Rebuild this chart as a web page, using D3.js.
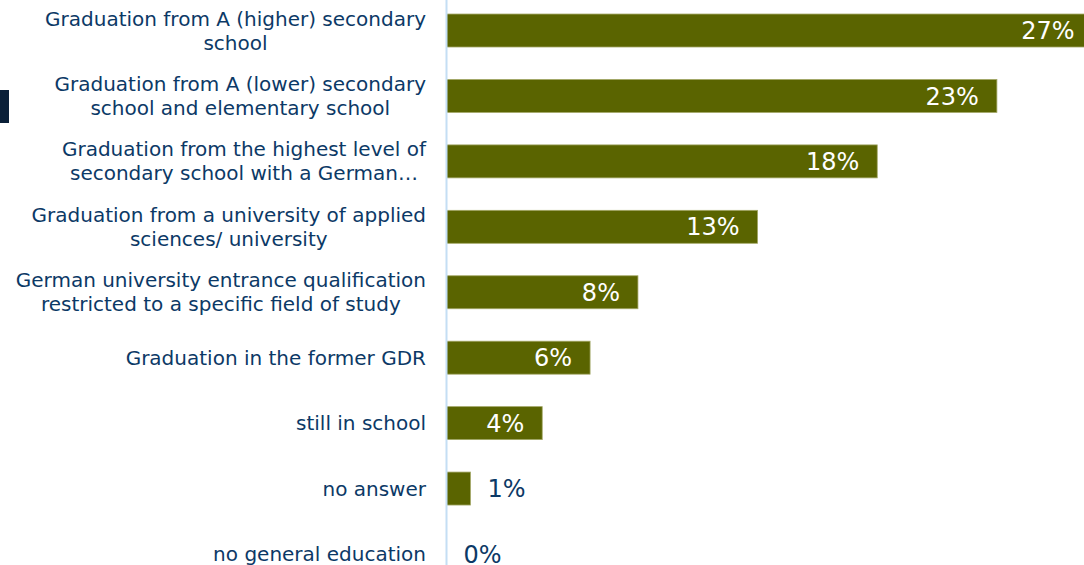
<!DOCTYPE html>
<html>
<head>
<meta charset="utf-8">
<script src="https://cdn.jsdelivr.net/npm/d3@7/dist/d3.min.js"></script>
<style>
  html, body { margin: 0; padding: 0; background: #ffffff; overflow: hidden; }
  svg { display: block; font-family: "DejaVu Sans", Verdana, sans-serif; }
</style>
</head>
<body>
<svg id="chart" width="1084" height="565"></svg>
<script>
// School-leaving qualification, share of respondents
const categories = [
  ["Graduation from A (higher) secondary", "school"],
  ["Graduation from A (lower) secondary", "school and elementary school"],
  ["Graduation from the highest level of", "secondary school with a German…"],
  ["Graduation from a university of applied", "sciences/ university"],
  ["German university entrance qualification", "restricted to a specific field of study"],
  ["Graduation in the former GDR"],
  ["still in school"],
  ["no answer"],
  ["no general education"]
];
const values = [27, 23, 18, 13, 8, 6, 4, 1, 0];
const valueLabels = ["27%", "23%", "18%", "13%", "8%", "6%", "4%", "1%", "0%"];

const W = 1084, H = 565;
const axisX = 446.5;
const labelRight = 426;
const barColor = "#5a6400";
const textColor = "#0c3966";

const svg = d3.select("#chart");
const keys = categories.map((c, i) => "c" + i);

const x = d3.scaleLinear().domain([0, 30]).range([axisX, axisX + 30 * 23.93]);
const y = d3.scaleBand()
  .domain(keys)
  .range([-2.2, 586.7])
  .paddingInner(0.496)
  .paddingOuter(0.248);

// decorative block at the left edge
svg.append("rect")
  .attr("x", 0).attr("y", 90).attr("width", 9).attr("height", 33)
  .attr("fill", "#0a1f38");

// bars
svg.append("g").selectAll("rect")
  .data(values)
  .join("rect")
  .attr("x", x(0))
  .attr("y", (d, i) => y(keys[i]))
  .attr("width", d => x(d) - x(0))
  .attr("height", y.bandwidth())
  .attr("fill", barColor)
  .attr("stroke", d => d > 0 ? "#a3a766" : "none")
  .attr("stroke-width", 0.8);

// vertical axis line
const axis = svg.append("g")
  .attr("transform", `translate(${axisX - 0.5},0)`)
  .call(d3.axisLeft(y).tickSize(0).tickFormat(""));
axis.select(".domain").attr("stroke", "#c4def4").attr("stroke-width", 2);

// category labels: block right-aligned, lines centred within the block
const catG = svg.append("g").attr("font-size", 20).attr("fill", textColor);
categories.forEach((lines, i) => {
  const cy = y(keys[i]) + y.bandwidth() / 2;
  const t = catG.append("text").attr("text-anchor", "middle");
  const spans = lines.map((ln, j) => t.append("tspan").text(ln));
  const widths = spans.map(s => s.node().getComputedTextLength());
  const maxW = d3.max(widths);
  const cx = labelRight - maxW / 2;
  const lh = 24;
  spans.forEach((s, j) => {
    s.attr("x", cx)
     .attr("y", cy + (j - (lines.length - 1) / 2) * lh)
     .attr("dy", "0.35em");
  });
});

// value labels
svg.append("g").attr("font-size", 24)
  .selectAll("text")
  .data(values)
  .join("text")
  .attr("y", (d, i) => y(keys[i]) + y.bandwidth() / 2)
  .attr("dy", "0.36em")
  .attr("x", d => d >= 4 ? x(d) - 18 : x(d) + 17)
  .attr("text-anchor", d => d >= 4 ? "end" : "start")
  .attr("fill", d => d >= 4 ? "#ffffff" : textColor)
  .text((d, i) => valueLabels[i]);
</script>
</body>
</html>
